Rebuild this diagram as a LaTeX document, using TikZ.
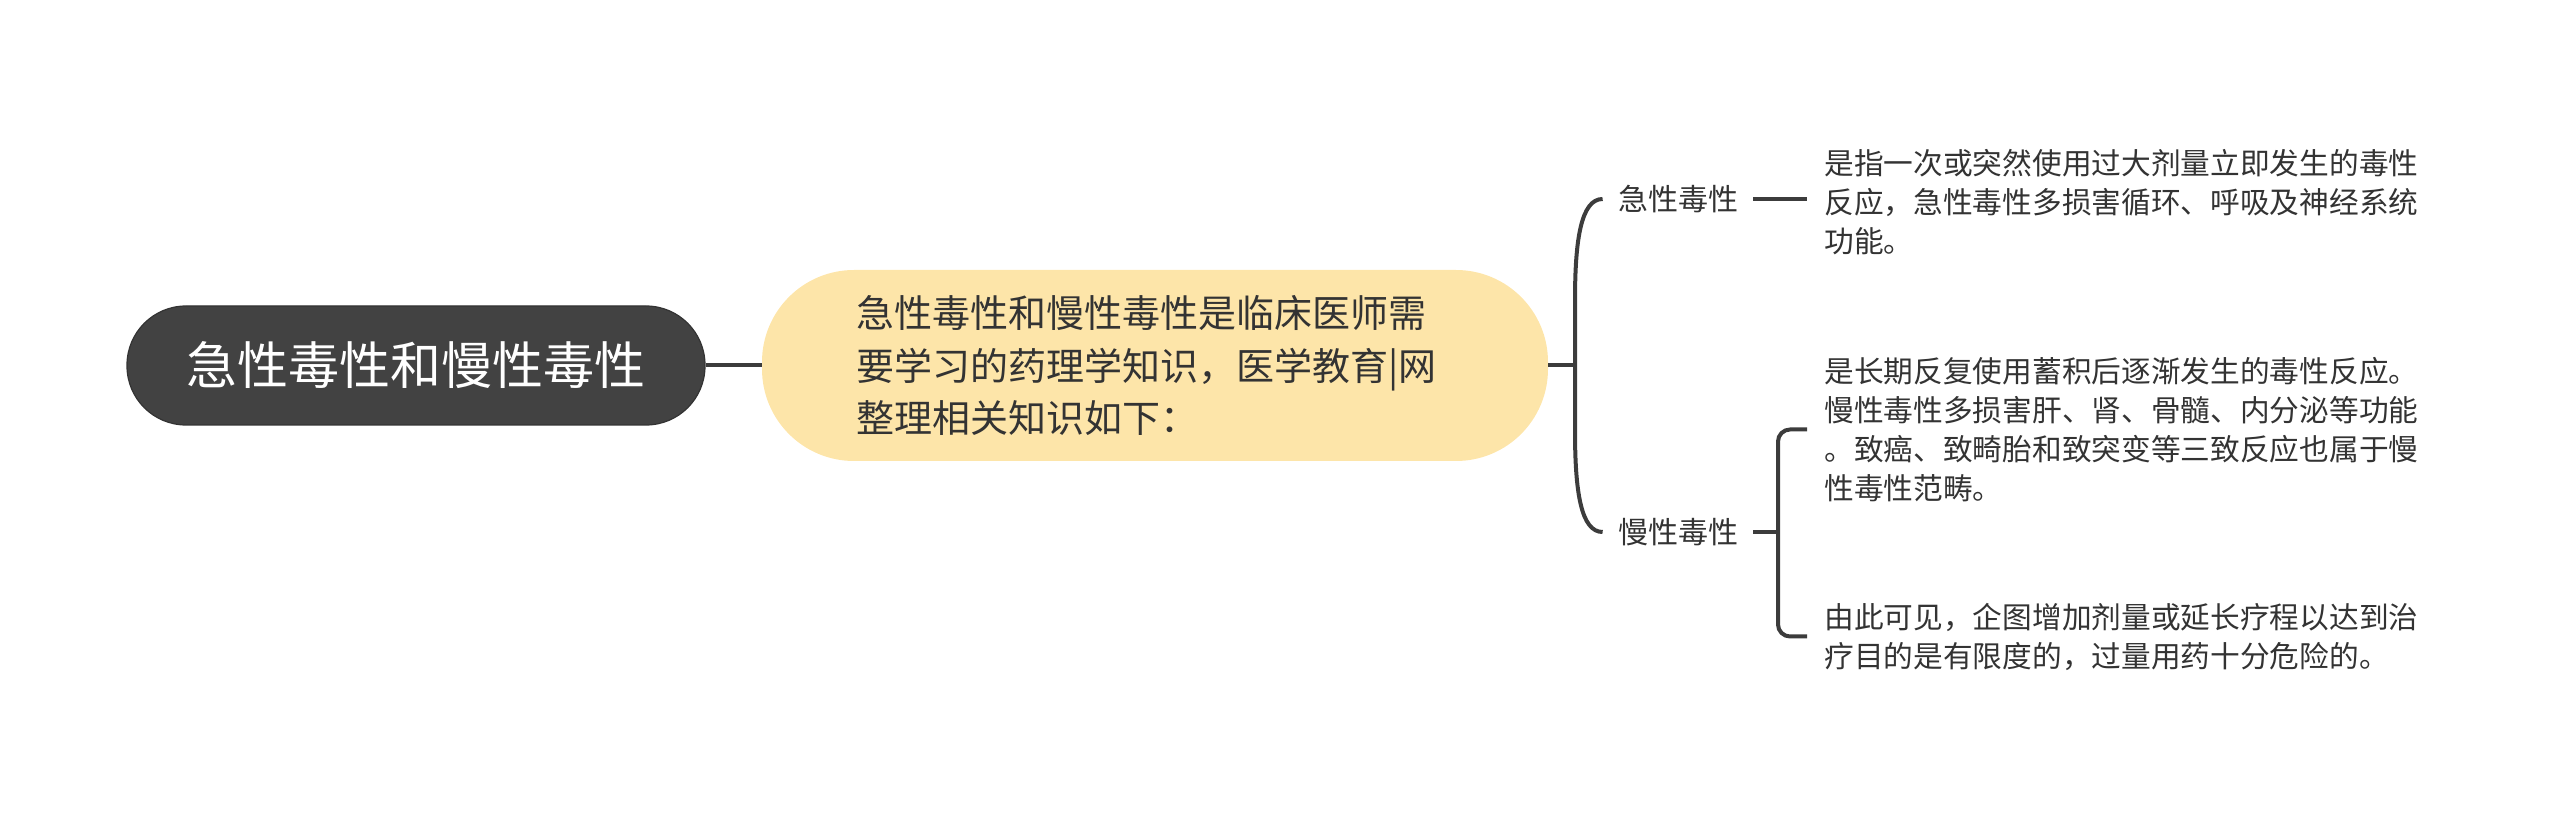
\documentclass[tikz,border=0pt]{standalone}
\usepackage{fontspec}
\setmainfont{Noto Sans CJK SC}

\definecolor{rootgray}{HTML}{424242}
\definecolor{introyellow}{HTML}{FDE5A9}
\definecolor{linegray}{HTML}{3C3C3C}
\definecolor{textgray}{HTML}{333333}

\tikzset{
  rootbox/.style={fill=rootgray, draw=black!80, line width=0.6pt, text=white,
    minimum width=289pt, minimum height=59.5pt, rounded corners=29.5pt,
    inner sep=0pt, font=\fontsize{25.5pt}{30pt}\selectfont},
  introbox/.style={fill=introyellow, minimum width=393pt, minimum height=95.5pt,
    rounded corners=46pt, inner sep=0pt, text width=299pt, align=left, text=textgray,
    font=\fontsize{19pt}{26.25pt}\selectfont},
  branchlabel/.style={inner xsep=7.5pt, inner ysep=2pt, text=textgray,
    font=\fontsize{15pt}{18pt}\selectfont},
  leaftext/.style={anchor=west, inner xsep=8.5pt, inner ysep=0pt, align=left,
    text=textgray, font=\fontsize{14.85pt}{19.5pt}\selectfont},
  link/.style={draw=linegray, line width=2pt},
}

\begin{document}
\begin{tikzpicture}[x=0.5pt,y=-0.5pt]
\useasboundingbox (0,0) rectangle (2560,817);

\node[rootbox] (root) at (416,365.5) {急性毒性和慢性毒性};
\node[introbox] (intro) at (1155,365.5) {急性毒性和慢性毒性是临床医师需\\要学习的药理学知识，医学教育|网\\整理相关知识如下：};

\node[branchlabel] (acute) at (1678,199) {急性毒性};
\node[branchlabel] (chronic) at (1678,532) {慢性毒性};

\node[leaftext] (leafa) at (1807,202) {是指一次或突然使用过大剂量立即发生的毒性\\反应，急性毒性多损害循环、呼吸及神经系统\\功能。};
\node[leaftext] (leafb) at (1807,429.5) {是长期反复使用蓄积后逐渐发生的毒性反应。\\慢性毒性多损害肝、肾、骨髓、内分泌等功能\\。致癌、致畸胎和致突变等三致反应也属于慢\\性毒性范畴。};
\node[leaftext] (leafc) at (1807,636.5) {由此可见，企图增加剂量或延长疗程以达到治\\疗目的是有限度的，过量用药十分危险的。};

\coordinate (fork) at (1575,365.5);
\coordinate (subfork) at (1778,532);

\draw[link] (root) -- (intro);
\draw[link] (intro.east) -- (fork);
\draw[link] (acute.west) .. controls (1581,199) and (1575,240) .. (1575,300)
  -- (1575,431) .. controls (1575,492) and (1581,532) .. (chronic.west);
\draw[link] (acute.east) -- (acute.east -| leafa.west);
\draw[link] (chronic.east) -- (subfork);
\draw[link, rounded corners=6pt] (leafb.west) -| (subfork) |- (leafc.west);
\end{tikzpicture}
\end{document}
